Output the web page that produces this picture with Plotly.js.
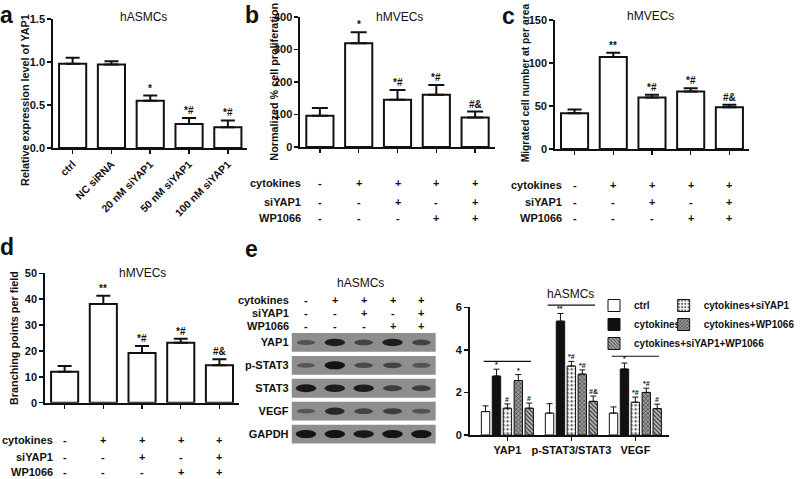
<!DOCTYPE html>
<html><head><meta charset="utf-8">
<script src="https://cdn.plot.ly/plotly-3.0.1.min.js"></script>
<style>html,body{margin:0;padding:0;background:#fff}#chart{width:800px;height:479px}</style>
</head><body><div id="chart"></div>
<script>
// ---------------- DATA ----------------
// Panel a
const aCategories = ['ctrl', 'NC siRNA', '20 nM siYAP1', '50 nM siYAP1', '100 nM siYAP1'];
const aValues = [0.98, 0.97, 0.55, 0.28, 0.24];
const aErrors = [0.07, 0.04, 0.06, 0.07, 0.08];
const aSig = ['', '', '*', '*#', '*#'];

// Panels b, c, d (same five conditions)
const conditions = ['control', 'cytokines', 'cytokines+siYAP1', 'cytokines+WP1066', 'cytokines+siYAP1+WP1066'];
const bValues = [96, 319, 145, 161, 91];
const bErrors = [24, 34, 30, 30, 18];
const bSig = ['', '*', '*#', '*#', '#&'];
const cValues = [41.5, 107, 60, 67, 48.5];
const cErrors = [4.5, 5, 3, 3.5, 3];
const cSig = ['', '**', '*#', '*#', '#&'];
const dValues = [12, 38.1, 19.2, 23.2, 14.5];
const dErrors = [2.2, 3.2, 2.7, 1.5, 2.3];
const dSig = ['', '**', '*#', '*#', '#&'];

// Treatment table rows
const rowLabels = ['cytokines', 'siYAP1', 'WP1066'];
const cytokinesRow = ['-', '+', '+', '+', '+'];
const siYAP1Row = ['-', '-', '+', '-', '+'];
const wp1066Row = ['-', '-', '-', '+', '+'];

// Panel e (bar chart)
const proteins = ['YAP1', 'p-STAT3/STAT3', 'VEGF'];
const eSeries = ['ctrl', 'cytokines', 'cytokines+siYAP1', 'cytokines+WP1066', 'cytokines+siYAP1+WP1066'];
const eCtrl = [1.1, 1.03, 1.03];
const eCytokines = [2.77, 5.35, 3.1];
const eSiYAP1 = [1.26, 3.24, 1.54];
const eWP1066 = [2.56, 2.86, 2.0];
const eCombo = [1.26, 1.58, 1.24];
const eCtrlErr = [0.27, 0.44, 0.29];
const eCytokinesErr = [0.32, 0.36, 0.28];
const eSiYAP1Err = [0.2, 0.22, 0.24];
const eWP1066Err = [0.28, 0.2, 0.2];
const eComboErr = [0.24, 0.25, 0.21];
const eCtrlSig = ['', '', ''];
const eCytokinesSig = ['*', '**', '*'];
const eSiYAP1Sig = ['#', '*#', '*#'];
const eWP1066Sig = ['*', '*#', '*#'];
const eComboSig = ['#', '#&', '#'];
const eBracketLevels = [3.46, 6.1, 3.7];

// Panel e (western blot, relative band darkness per lane)
const blotProteins = ['YAP1', 'p-STAT3', 'STAT3', 'VEGF', 'GAPDH'];
const blotYAP1 = [0.3, 0.85, 0.45, 0.85, 0.45];
const blotPSTAT3 = [0.25, 0.95, 0.4, 0.45, 0.3];
const blotSTAT3 = [0.9, 0.85, 0.85, 0.5, 0.5];
const blotVEGF = [0.25, 0.75, 0.45, 0.5, 0.3];
const blotGAPDH = [0.95, 0.95, 0.9, 0.95, 0.95];

// ---------------- LAYOUT HELPERS ----------------
const W = 800, H = 479;
const px = x => x / W;
const py = y => 1 - y / H;
const xdom = (l, r) => [l / W, r / W];
const ydom = (top, bottom) => [1 - bottom / H, 1 - top / H];
const FONT = 'Liberation Sans, Arial, sans-serif';
const INK = '#111';
const tickFont = {family: FONT, size: 11, color: INK, weight: 'bold'};

function yAxis(domain, range, dtick, anchor, fmt, lw) {
  return {domain, range, dtick, tick0: 0, anchor, showline: true, linecolor: INK, linewidth: lw || 2,
    ticks: 'outside', ticklen: 4, tickwidth: 1.5, tickcolor: INK, showgrid: false, zeroline: false,
    tickfont: tickFont, tickformat: fmt || '', fixedrange: true, automargin: false};
}
function xAxis(domain, anchor, labels) {
  return {domain, anchor, type: 'category', range: [-0.5, 4.5], showline: true, linecolor: INK, linewidth: 2,
    ticks: 'outside', ticklen: 4, tickwidth: 1.5, tickcolor: INK, showgrid: false, zeroline: false,
    showticklabels: !!labels, tickangle: -45, tickfont: {family: FONT, size: 10.5, color: INK, weight: 'bold'},
    fixedrange: true, automargin: false};
}

const traces = [];
const annotations = [];
const shapes = [];

function simpleBars(xs, ys, errs, xa, ya, capw) {
  traces.push({type: 'bar', x: xs, y: ys, xaxis: xa, yaxis: ya, width: 0.7, showlegend: false,
    marker: {color: '#fff', line: {color: INK, width: 2}},
    error_y: {type: 'data', symmetric: false, array: errs, arrayminus: errs.map(() => 0),
      color: INK, thickness: 2, width: capw || 7},
    hoverinfo: 'x+y'});
}
function sigLabels(xs, ys, errs, sig, xa, ya, size) {
  sig.forEach((s, i) => {
    if (!s) return;
    annotations.push({xref: xa, yref: ya, x: xs[i], y: ys[i] + errs[i], text: s, showarrow: false,
      xanchor: 'center', yanchor: 'bottom', yshift: 0, font: {family: FONT, size: size || 10, color: INK, weight: 'bold'}});
  });
}
function text(x, y, t, opts) {
  annotations.push(Object.assign({xref: 'paper', yref: 'paper', x: px(x), y: py(y), text: t, showarrow: false,
    xanchor: 'center', yanchor: 'middle',
    font: {family: FONT, size: 11, color: INK, weight: 'bold'}}, opts || {}));
}
function yTitle(x, y, t, size) {
  text(x, y, t, {textangle: -90, font: {family: FONT, size: size || 11, color: INK, weight: 'bold'}});
}
function panelLetter(x, y, t) {
  text(x, y, t, {font: {family: FONT, size: 23, color: INK, weight: 'bold'}});
}
function treatmentTable(xa, labelRight, rowYs, numeric) {
  const rows = [cytokinesRow, siYAP1Row, wp1066Row];
  rows.forEach((row, r) => {
    text(labelRight, rowYs[r], rowLabels[r], {xanchor: 'right'});
    row.forEach((sgn, j) => {
      annotations.push({xref: xa, yref: 'paper', x: numeric ? j : conditions[j],
        y: py(rowYs[r]), text: sgn, showarrow: false, xanchor: 'center', yanchor: 'middle',
        font: {family: FONT, size: 11, color: INK, weight: 'bold'}});
    });
  });
}

// ---------------- PANEL a ----------------
simpleBars(aCategories, aValues, aErrors, 'x', 'y', 7);
sigLabels(aCategories, aValues, aErrors, aSig, 'x', 'y', 10);
panelLetter(7, 15, 'a');
text(144, 17, 'hASMCs', {font: {family: FONT, size: 12, color: INK}});
yTitle(25, 100, 'Relative expression level of YAP1', 10.8);

// ---------------- PANEL b ----------------
simpleBars(conditions, bValues, bErrors, 'x2', 'y2', 8);
sigLabels(conditions, bValues, bErrors, bSig, 'x2', 'y2', 10);
panelLetter(253, 15, 'b');
text(402, 17, 'hMVECs', {font: {family: FONT, size: 12, color: INK}});
yTitle(275, 82, 'Normalized % cell proliferation', 10.8);
treatmentTable('x2', 305, [183, 202, 218]);

// ---------------- PANEL c ----------------
simpleBars(conditions, cValues, cErrors, 'x3', 'y3', 7);
sigLabels(conditions, cValues, cErrors, cSig, 'x3', 'y3', 10);
panelLetter(511, 16, 'c');
text(654, 16, 'hMVECs', {font: {family: FONT, size: 12, color: INK}});
yTitle(529, 83, 'Migrated cell number at per area', 10.3);
treatmentTable('x3', 567, [185, 202, 218]);

// ---------------- PANEL d ----------------
simpleBars(conditions, dValues, dErrors, 'x4', 'y4', 7);
sigLabels(conditions, dValues, dErrors, dSig, 'x4', 'y4', 10);
panelLetter(7, 247, 'd');
text(143, 273, 'hMVECs', {font: {family: FONT, size: 12, color: INK}});
yTitle(14, 338, 'Branching points per field', 10.8);
treatmentTable('x4', 55, [440, 457, 472]);

// ---------------- PANEL e: bar chart ----------------
const eValuesAll = [eCtrl, eCytokines, eSiYAP1, eWP1066, eCombo];
const eErrAll = [eCtrlErr, eCytokinesErr, eSiYAP1Err, eWP1066Err, eComboErr];
const eSigAll = [eCtrlSig, eCytokinesSig, eSiYAP1Sig, eWP1066Sig, eComboSig];
const eStyles = [
  {color: '#fff', legend: 'legend'},
  {color: '#111', legend: 'legend'},
  {color: '#fff', pattern: {shape: '.', fillmode: 'replace', bgcolor: '#fff', fgcolor: '#666', size: 4, solidity: 0.35}, legend: 'legend2'},
  {color: '#888', pattern: {shape: 'x', fillmode: 'replace', bgcolor: '#9a9a9a', fgcolor: '#333', size: 3, solidity: 0.35}, legend: 'legend2'},
  {color: '#aaa', pattern: {shape: '\\', fillmode: 'replace', bgcolor: '#bdbdbd', fgcolor: '#333', size: 3, solidity: 0.4}, legend: 'legend3'}
];
const BARGAP = 0.147, GROUPGAP = 0.23;
eSeries.forEach((name, k) => {
  const st = eStyles[k];
  const marker = {color: st.color, line: {color: INK, width: 1}};
  if (st.pattern) marker.pattern = st.pattern;
  traces.push({type: 'bar', name, x: proteins, y: eValuesAll[k], xaxis: 'x5', yaxis: 'y5', legend: st.legend,
    marker,
    error_y: {type: 'data', symmetric: false, array: eErrAll[k], arrayminus: eErrAll[k].map(() => 0),
      color: INK, thickness: 1, width: 3}});
  const slot = (1 - BARGAP) / eSeries.length;
  eSigAll[k].forEach((s, g) => {
    if (!s) return;
    annotations.push({xref: 'x5', yref: 'y5', x: g + (k - (eSeries.length - 1) / 2) * slot,
      y: eValuesAll[k][g] + eErrAll[k][g], text: s, showarrow: false, xanchor: 'center', yanchor: 'bottom', yshift: -1,
      font: {family: FONT, size: 7, color: INK, weight: 'bold'}});
  });
});
eBracketLevels.forEach((lvl, g) => {
  shapes.push({type: 'line', xref: 'x5', yref: 'y5 domain', x0: g - 0.37, x1: g + 0.37,
    y0: lvl / 6, y1: lvl / 6, line: {color: INK, width: 1.2}});
});
text(573, 294, 'hASMCs', {font: {family: FONT, size: 12, color: INK}});
panelLetter(253, 249, 'e');

// ---------------- PANEL e: western blot ----------------
const blotAll = [blotYAP1, blotPSTAT3, blotSTAT3, blotVEGF, blotGAPDH];
blotAll.forEach((row, i) => {
  shapes.push({type: 'rect', xref: 'x6', yref: 'y6', x0: -0.5, x1: 4.5, y0: i - 0.41, y1: i + 0.41,
    fillcolor: '#8e8e8e', line: {width: 0}, layer: 'below'});
  row.forEach((v, j) => {
    const hh = 0.08 + 0.1 * v;
    shapes.push({type: 'circle', xref: 'x6', yref: 'y6', x0: j - 0.3 - 0.06 * v, x1: j + 0.3 + 0.06 * v,
      y0: i - hh, y1: i + hh, fillcolor: 'rgba(15,15,15,' + (0.25 + 0.75 * v).toFixed(2) + ')', line: {width: 0}});
  });
});
// invisible trace to anchor the blot axes
traces.push({type: 'scatter', x: [0, 4], y: [0, 4], xaxis: 'x6', yaxis: 'y6', mode: 'markers',
  marker: {opacity: 0}, showlegend: false, hoverinfo: 'skip'});
text(362, 283, 'hASMCs', {font: {family: FONT, size: 12, color: INK}});
treatmentTable('x6', 292, [300, 313, 326], true);

// ---------------- LAYOUT ----------------
const legendFont = {family: FONT, size: 10, color: INK, weight: 'bold'};
const layout = {
  width: W, height: H, margin: {l: 0, r: 0, t: 0, b: 0}, paper_bgcolor: '#fff', plot_bgcolor: 'rgba(0,0,0,0)',
  barmode: 'group', bargap: BARGAP, bargroupgap: GROUPGAP, font: {family: FONT, color: INK},
  xaxis: xAxis(xdom(53.5, 248.5), 'y', true),
  yaxis: yAxis(ydom(19, 148), [0, 1.5], 0.5, 'x', '.1f'),
  xaxis2: xAxis(xdom(302, 497), 'y2', false),
  yaxis2: yAxis(ydom(17, 147), [0, 400], 100, 'x2'),
  xaxis3: xAxis(xdom(558, 752.5), 'y3', false),
  yaxis3: yAxis(ydom(20, 149), [0, 150], 50, 'x3'),
  xaxis4: xAxis(xdom(45.5, 240), 'y4', false),
  yaxis4: yAxis(ydom(273.3, 402.7), [0, 50], 10, 'x4'),
  xaxis5: Object.assign(xAxis(xdom(472, 672), 'y5', true), {range: [-0.59, 2.52], tickangle: 0, linewidth: 1.5,
    tickfont: {family: FONT, size: 11, color: INK, weight: 'bold'}}),
  yaxis5: yAxis(ydom(307.3, 435), [0, 6], 2, 'x5', '', 1.5),
  xaxis6: {domain: xdom(293, 438), anchor: 'y6', range: [-0.5, 4.5], visible: false, fixedrange: true},
  yaxis6: {domain: ydom(331, 445.5), anchor: 'x6', range: [4.5, -0.5], tickvals: [0, 1, 2, 3, 4], ticktext: blotProteins,
    showline: false, showgrid: false, zeroline: false, ticks: '', ticklabelstandoff: 2, tickfont: tickFont, fixedrange: true},
  annotations, shapes,
  legend: {x: px(597), y: py(291), xanchor: 'left', yanchor: 'top', bgcolor: 'rgba(0,0,0,0)', font: legendFont},
  legend2: {x: px(667), y: py(291), xanchor: 'left', yanchor: 'top', bgcolor: 'rgba(0,0,0,0)', font: legendFont},
  legend3: {x: px(597), y: py(329), xanchor: 'left', yanchor: 'top', bgcolor: 'rgba(0,0,0,0)', font: legendFont},
  showlegend: true
};
Plotly.newPlot('chart', traces, layout, {staticPlot: true, displayModeBar: false});
</script>
</body></html>
